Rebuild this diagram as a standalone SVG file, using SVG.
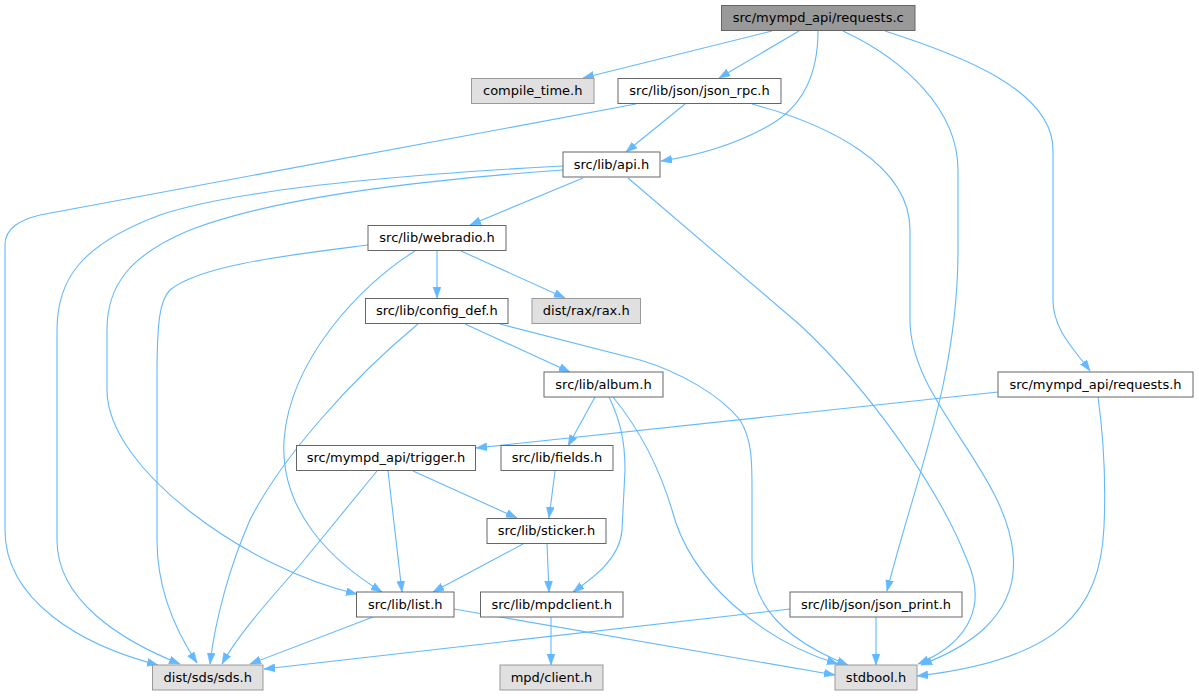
<svg xmlns="http://www.w3.org/2000/svg" width="1199" height="696" viewBox="0 0 1199 696">
<style>
.n rect{fill:#ffffff;stroke:#666666;stroke-width:1}
.n.g rect{fill:#e0e0e0;stroke:#999999}
.n.r rect{fill:#999999;stroke:#666666}
.n text{font-family:"DejaVu Sans","Liberation Sans",sans-serif;font-size:13px;fill:#000000;text-anchor:middle}
#edges path{fill:none;stroke:#63b8ff;stroke-width:1.1;marker-end:url(#ah)}
</style>
<defs>
<marker id="ah" markerWidth="12" markerHeight="10" refX="11" refY="4" orient="auto" markerUnits="userSpaceOnUse">
<path d="M0,0 L11,4 L0,8 z" fill="#63b8ff" stroke="#63b8ff" stroke-width="0.5"/>
</marker>
</defs>
<rect width="1199" height="696" fill="#ffffff"/>
<g id="edges">
<path d="M772,31 L583,78"/>
<path d="M799,31 L719,78"/>
<path d="M818,31 C818,70 805,105 770,125 C735,145 700,155 661,161"/>
<path d="M843,31 C905,60 958,110 958,170 L958,250 C958,380 915,480 887,591"/>
<path d="M885,31 C960,55 1053,90 1053,150 L1053,300 C1053,330 1075,350 1090,371"/>
<path d="M636,104 L40,215 C20,220 5,228 5,245 L5,530 C5,600 80,645 158,665"/>
<path d="M685,104 L626,152"/>
<path d="M752,104 C830,125 910,165 910,230 L910,320 C910,400 1005,470 1013,553 C1020,620 960,650 921,665"/>
<path d="M583,178 L470,225"/>
<path d="M563,166 C450,172 250,185 160,215 C80,245 57,280 57,330 L57,540 C57,600 120,640 180,664"/>
<path d="M563,170 C450,178 280,195 190,230 C130,255 107,285 107,330 L107,390 C107,470 250,570 357,594"/>
<path d="M628,178 L800,325 C870,390 940,490 967,560 C985,600 975,640 918,664"/>
<path d="M437,251 L437,298"/>
<path d="M461,251 L565,298"/>
<path d="M368,245 C290,255 200,265 170,290 C160,300 157,320 157,377 L157,540 C157,590 175,630 197,663"/>
<path d="M415,251 C360,285 290,360 284,440 C280,510 330,560 382,592"/>
<path d="M418,324 C350,380 280,460 250,520 C230,565 215,620 210,664"/>
<path d="M465,324 L570,372"/>
<path d="M500,324 L640,360 C680,372 720,395 740,420 C752,440 752,460 752,490 L752,560 C752,620 810,650 848,665"/>
<path d="M595,397 L568,446"/>
<path d="M609,397 C620,420 625,440 625,470 L622,530 C620,560 590,580 573,592"/>
<path d="M613,397 C640,430 660,470 672,510 C690,580 760,640 838,664"/>
<path d="M998,392 L476,448"/>
<path d="M1098,397 C1104,440 1106,480 1104,527 C1100,610 1060,660 917,676"/>
<path d="M377,471 L300,565 C260,610 235,640 222,664"/>
<path d="M388,471 L402,592"/>
<path d="M413,471 L517,518"/>
<path d="M555,471 L549,518"/>
<path d="M523,544 L433,592"/>
<path d="M547,544 L549,592"/>
<path d="M373,617 L250,664"/>
<path d="M454,609 L835,675"/>
<path d="M551,617 L551,665"/>
<path d="M790,609 L264,669"/>
<path d="M876,617 L876,665"/>
</g>
<g id="n_requests_c" class="n r"><rect x="721.5" y="5.5" width="193.5" height="25"/><text x="818.25" y="22">src/mympd_api/requests.c</text></g>
<g id="n_compile_time" class="n g"><rect x="471.5" y="78.5" width="122.5" height="25"/><text x="532.75" y="95">compile_time.h</text></g>
<g id="n_json_rpc" class="n"><rect x="618" y="78.5" width="163" height="25"/><text x="699.5" y="95">src/lib/json/json_rpc.h</text></g>
<g id="n_api" class="n"><rect x="563" y="152" width="97" height="25"/><text x="611.5" y="168.5">src/lib/api.h</text></g>
<g id="n_webradio" class="n"><rect x="368" y="225.5" width="138" height="25"/><text x="437" y="242">src/lib/webradio.h</text></g>
<g id="n_config_def" class="n"><rect x="365.5" y="298.5" width="142.5" height="25"/><text x="436.75" y="315">src/lib/config_def.h</text></g>
<g id="n_rax" class="n g"><rect x="532" y="298.5" width="108.5" height="25"/><text x="586.25" y="315">dist/rax/rax.h</text></g>
<g id="n_album" class="n"><rect x="544" y="372" width="119" height="25"/><text x="603.5" y="388.5">src/lib/album.h</text></g>
<g id="n_requests_h" class="n"><rect x="998" y="372" width="195" height="25"/><text x="1095.5" y="388.5">src/mympd_api/requests.h</text></g>
<g id="n_trigger" class="n"><rect x="296.5" y="445.5" width="179" height="25"/><text x="386" y="462">src/mympd_api/trigger.h</text></g>
<g id="n_fields" class="n"><rect x="501" y="445.5" width="112" height="25"/><text x="557" y="462">src/lib/fields.h</text></g>
<g id="n_sticker" class="n"><rect x="487" y="518.5" width="119" height="25"/><text x="546.5" y="535">src/lib/sticker.h</text></g>
<g id="n_list" class="n"><rect x="356.5" y="592" width="97.5" height="25"/><text x="405.25" y="608.5">src/lib/list.h</text></g>
<g id="n_mpdclient" class="n"><rect x="480.5" y="592" width="142.5" height="25"/><text x="551.75" y="608.5">src/lib/mpdclient.h</text></g>
<g id="n_json_print" class="n"><rect x="790" y="592" width="172" height="25"/><text x="876" y="608.5">src/lib/json/json_print.h</text></g>
<g id="n_sds" class="n g"><rect x="152.5" y="665" width="110.5" height="25"/><text x="207.75" y="681.5">dist/sds/sds.h</text></g>
<g id="n_mpd_client" class="n g"><rect x="500" y="665" width="103" height="25"/><text x="551.5" y="681.5">mpd/client.h</text></g>
<g id="n_stdbool" class="n g"><rect x="835" y="665" width="82" height="25"/><text x="876" y="681.5">stdbool.h</text></g>
</svg>
